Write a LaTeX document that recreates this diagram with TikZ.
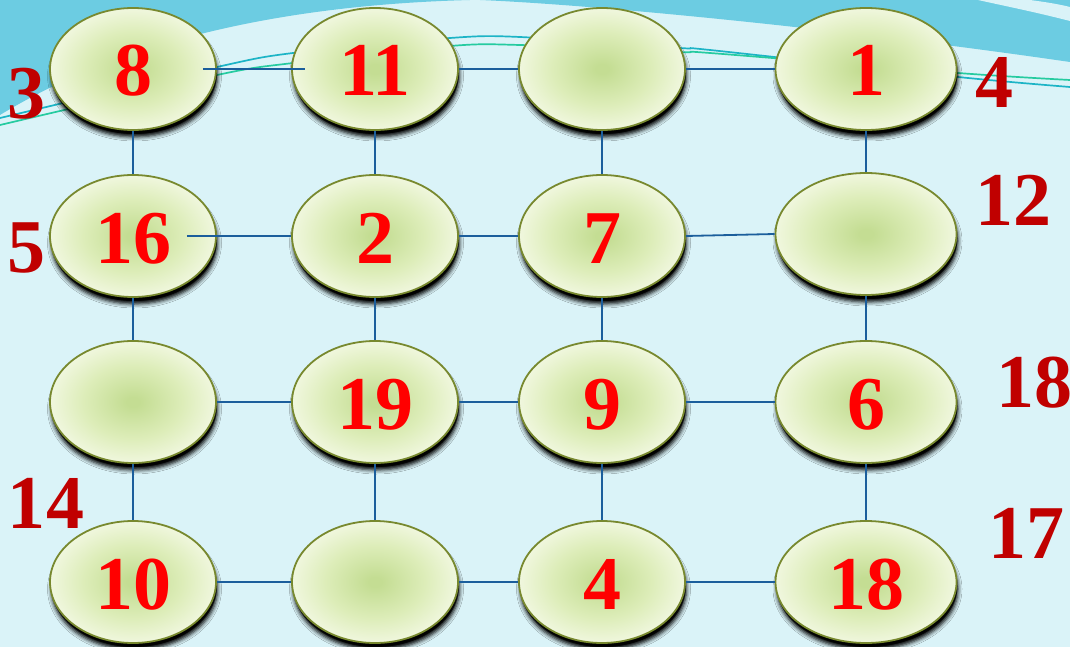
\documentclass[tikz,border=0pt]{standalone}
\usepackage{fontspec}
\setmainfont{Liberation Serif}
\usetikzlibrary{shapes.geometric,shadows,shadows.blur,calc}
\definecolor{bg}{HTML}{DAF3F8}
\definecolor{band}{HTML}{6CCCE2}
\definecolor{gC}{HTML}{C4DD93}
\definecolor{gM}{HTML}{DDEDB9}
\definecolor{gE}{HTML}{F0F7DE}
\definecolor{rim}{HTML}{78892F}
\definecolor{conn}{HTML}{1B5E9C}
\definecolor{numred}{HTML}{FF0000}
\definecolor{sidered}{HTML}{C00000}
\definecolor{tealA}{HTML}{1CB4C6}
\definecolor{tealB}{HTML}{25CBA0}
\pgfdeclareradialshading{ellgrad}{\pgfpoint{0bp}{0bp}}{color(0bp)=(gC); color(2bp)=(gC); color(15bp)=(gM); color(25bp)=(gE); color(50bp)=(gE)}
\tikzset{
  cell/.style={ellipse, draw=rim, line width=1.8pt, shade, shading=ellgrad,
    minimum width=166pt, minimum height=122pt, inner sep=0pt,
    text=numred, font=\bfseries\fontsize{76}{76}\selectfont,
    text height=54pt, text depth=0pt,
    blur shadow={shadow xshift=1.5pt, shadow yshift=-7pt, shadow blur radius=4pt, shadow opacity=100},
    general shadow={fill=black, shadow xshift=1pt, shadow yshift=-4pt, opacity=0.8}},
  wide/.style={minimum width=181pt},
  cn/.style={draw=conn, line width=1.8pt},
  side/.style={anchor=base, text=sidered, inner sep=0pt, font=\bfseries\fontsize{76}{76}\selectfont},
}
\begin{document}
\begin{tikzpicture}[x=1pt,y=-1pt]
\useasboundingbox (0,0) rectangle (1070,647);
\fill[bg] (0,0) rectangle (1070,647);
% top decorative bands
\fill[band] (0,0) -- (0,115) .. controls (120,42) and (280,5) .. (470,0) -- cycle;
\fill[band] (480,0) .. controls (600,5) and (850,30) .. (1070,62) -- (1070,0) -- cycle;
\fill[bg] (978,0) -- (1030,0) .. controls (1045,2) and (1058,4) .. (1070,7) -- (1070,21) .. controls (1035,12) and (1005,6) .. cycle;
\draw[tealA, line width=1.7pt] plot[smooth, tension=0.5] coordinates {(0,118) (217,67) (293,53) (450,38) (520,37) (680,48) (710,50) (958,77) (1070,87)};
\draw[tealB, line width=1.7pt] plot[smooth, tension=0.5] coordinates {(0,125) (217,75) (293,63) (450,46) (520,45) (680,52) (710,53) (958,73) (1070,80)};
% nodes
\node[cell] (a8)  at (133,69) {8};
\node[cell] (a11) at (375,69) {11};
\node[cell] (a0)  at (602,69) {};
\node[cell,wide] (a1)  at (866,69) {1};
\node[cell] (b16) at (133,236) {16};
\node[cell] (b2)  at (375,236) {2};
\node[cell] (b7)  at (602,236) {7};
\node[cell,wide] (b0)  at (866,234) {};
\node[cell] (c0)  at (133,402) {};
\node[cell] (c19) at (375,402) {19};
\node[cell] (c9)  at (602,402) {9};
\node[cell,wide] (c6)  at (866,402) {6};
\node[cell] (d10) at (133,582) {10};
\node[cell] (d0)  at (375,582) {};
\node[cell] (d4)  at (602,582) {4};
\node[cell,wide] (d18) at (866,582) {18};
% connectors
\draw[cn] ($(a8.east)+(-14,0)$) -- ($(a11.west)+(14,0)$);
\draw[cn] (a11.east) -- (a0.west);
\draw[cn] (a0.east) -- (a1.west);
\draw[cn] ($(b16.east)+(-30,0)$) -- (b2.west);
\draw[cn] (b2.east) -- (b7.west);
\draw[cn] (b7.east) -- (b0.west);
\draw[cn] (c0.east) -- (c19.west);
\draw[cn] (c19.east) -- (c9.west);
\draw[cn] (c9.east) -- (c6.west);
\draw[cn] (d10.east) -- (d0.west);
\draw[cn] (d0.east) -- (d4.west);
\draw[cn] (d4.east) -- (d18.west);
\draw[cn] (a8.south) -- (b16.north);
\draw[cn] (b16.south) -- (c0.north);
\draw[cn] (c0.south) -- (d10.north);
\draw[cn] (a11.south) -- (b2.north);
\draw[cn] (b2.south) -- (c19.north);
\draw[cn] (c19.south) -- (d0.north);
\draw[cn] (a0.south) -- (b7.north);
\draw[cn] (b7.south) -- (c9.north);
\draw[cn] (c9.south) -- (d4.north);
\draw[cn] (a1.south) -- (b0.north);
\draw[cn] (b0.south) -- (c6.north);
\draw[cn] (c6.south) -- (d18.north);
% side labels
\node[side] (s3)  at (27,119) {3};
\node[side] (s4)  at (994,108) {4};
\node[side] (s5)  at (26,272) {5};
\node[side] (s12) at (1013,225) {12};
\node[side] (s18) at (1034,407) {18};
\node[side] (s14) at (46,528) {14};
\node[side] (s17) at (1026,558) {17};
\end{tikzpicture}
\end{document}
